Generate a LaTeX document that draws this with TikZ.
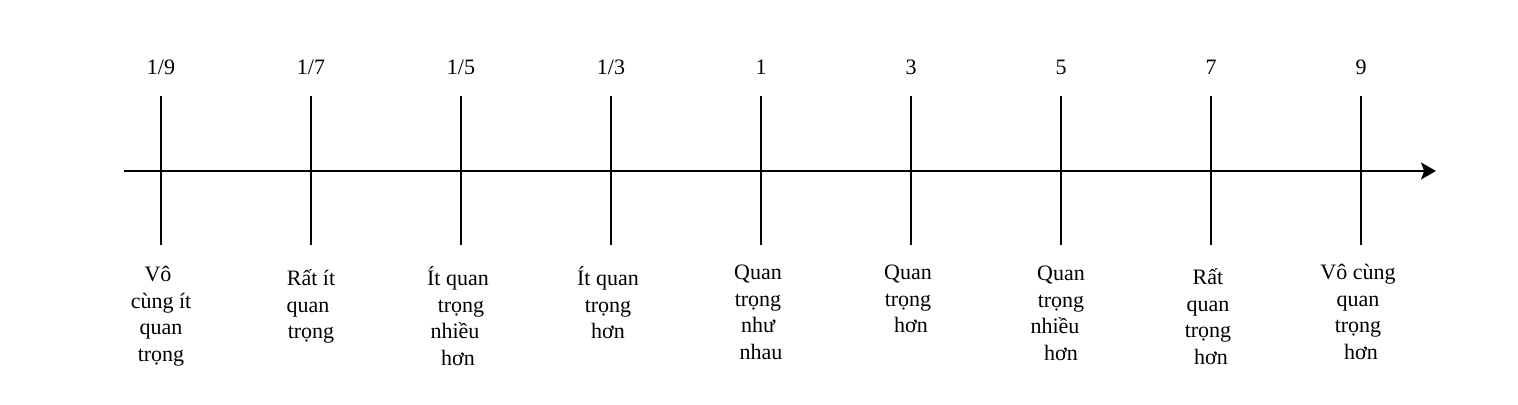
\documentclass[tikz,border=0pt]{standalone}
\usepackage{fontspec}
\setmainfont{Liberation Serif}
\usetikzlibrary{arrows.meta}
\newcommand\shiftline[2]{\makebox[0pt]{\hspace*{#1pt}#2}}
\newcommand\firstline[2]{\makebox[0pt]{\hspace*{#1pt}\rule{0pt}{12pt}#2}}
\begin{document}
\begin{tikzpicture}[x=0.5pt,y=-0.5pt,
  axisline/.style={line width=1pt},
  tickline/.style={line width=1pt},
  num/.style={anchor=base, inner sep=0pt, font=\fontsize{11}{13.35}\selectfont},
  lbl/.style={anchor=north, inner sep=0pt, align=center, font=\fontsize{11}{13.35}\selectfont}]
\useasboundingbox (0,0) rectangle (1518,405);
% axis
\coordinate (axL) at (124,171);
\coordinate (axR) at (1436,171);
\draw[axisline,-{Stealth[length=7.5pt,width=8.5pt,inset=1.6pt]}] (axL) -- (axR);
% ticks
\foreach \i/\x in {1/161,2/311,3/461,4/611,5/761,6/911,7/1061,8/1211,9/1361}{
  \coordinate (top\i) at (\x,96);
  \coordinate (bot\i) at (\x,245);
  \draw[tickline] (top\i) -- (bot\i);
}
% numbers
\node[num] (n1) at (161,75) {1/9};
\node[num] (n2) at (311,75) {1/7};
\node[num] (n3) at (461,75) {1/5};
\node[num] (n4) at (611,75) {1/3};
\node[num] (n5) at (761,75) {1};
\node[num] (n6) at (911,75) {3};
\node[num] (n7) at (1061,75) {5};
\node[num] (n8) at (1211,75) {7};
\node[num] (n9) at (1361,75) {9};
% labels
\node[lbl] (l1) at (161,257) {\firstline{-3}{Vô}\\\shiftline{0}{cùng ít}\\\shiftline{0}{quan}\\\shiftline{0}{trọng}};
\node[lbl] (l2) at (311,261) {\firstline{0}{Rất ít}\\\shiftline{-3}{quan}\\\shiftline{0}{trọng}};
\node[lbl] (l3) at (461,261) {\firstline{-3}{Ít quan}\\\shiftline{0}{trọng}\\\shiftline{-6}{nhiều}\\\shiftline{-3}{hơn}};
\node[lbl] (l4) at (611,261) {\firstline{-3}{Ít quan}\\\shiftline{-3}{trọng}\\\shiftline{-3}{hơn}};
\node[lbl] (l5) at (761,255) {\firstline{-3}{Quan}\\\shiftline{-3}{trọng}\\\shiftline{-3}{như}\\\shiftline{0}{nhau}};
\node[lbl] (l6) at (911,255) {\firstline{-3}{Quan}\\\shiftline{-3}{trọng}\\\shiftline{0}{hơn}};
\node[lbl] (l7) at (1061,256) {\firstline{0}{Quan}\\\shiftline{0}{trọng}\\\shiftline{-6}{nhiều}\\\shiftline{0}{hơn}};
\node[lbl] (l8) at (1211,260) {\firstline{-3}{Rất}\\\shiftline{-3}{quan}\\\shiftline{-3}{trọng}\\\shiftline{0}{hơn}};
\node[lbl] (l9) at (1361,255) {\firstline{-3}{Vô cùng}\\\shiftline{-3}{quan}\\\shiftline{-3}{trọng}\\\shiftline{0}{hơn}};
\end{tikzpicture}
\end{document}
